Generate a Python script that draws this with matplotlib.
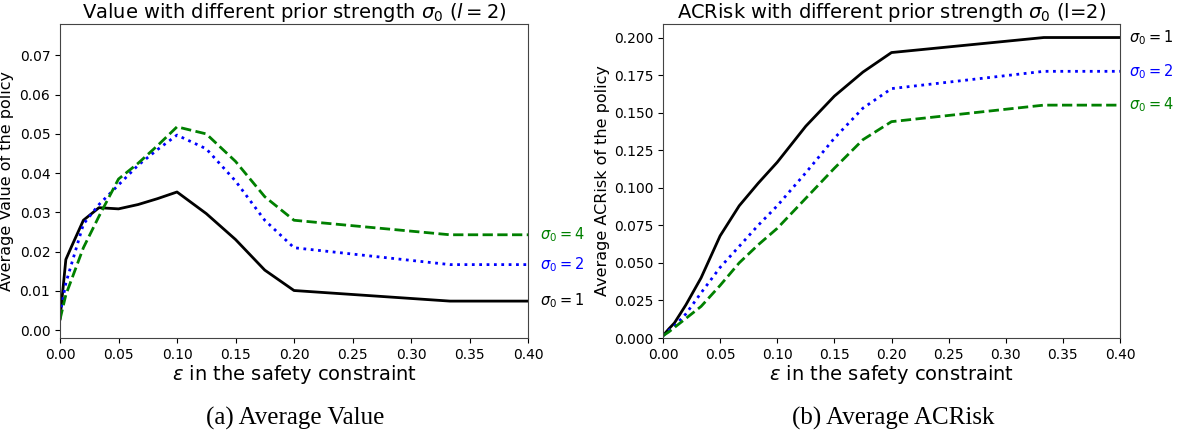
import matplotlib
matplotlib.use("Agg")
import matplotlib.pyplot as plt

# epsilon grid shared by all curves
eps = [0.0, 0.005, 0.01, 0.02, 0.0333, 0.05, 0.0667, 0.0833, 0.1, 0.125, 0.15, 0.175, 0.2, 0.3333, 0.4]

# (a) average value of the policy
value_s1 = [0.0028, 0.018, 0.0214, 0.028, 0.0312, 0.0309, 0.032, 0.0335, 0.0352, 0.0297, 0.0231, 0.0153, 0.0101, 0.0074, 0.0074]
value_s2 = [0.004, 0.012, 0.017, 0.027, 0.032, 0.037, 0.042, 0.046, 0.0497, 0.0462, 0.038, 0.028, 0.021, 0.0167, 0.0167]
value_s4 = [0.0027, 0.009, 0.013, 0.021, 0.029, 0.0385, 0.0425, 0.047, 0.0518, 0.050, 0.043, 0.034, 0.028, 0.0243, 0.0243]

# (b) average ACRisk of the policy
risk_s1 = [0.0015, 0.006, 0.010, 0.022, 0.040, 0.068, 0.088, 0.103, 0.117, 0.141, 0.161, 0.177, 0.190, 0.200, 0.200]
risk_s2 = [0.0015, 0.005, 0.008, 0.016, 0.030, 0.047, 0.061, 0.075, 0.088, 0.110, 0.133, 0.153, 0.166, 0.1775, 0.1775]
risk_s4 = [0.0015, 0.004, 0.007, 0.013, 0.021, 0.035, 0.050, 0.062, 0.073, 0.093, 0.113, 0.132, 0.144, 0.155, 0.155]

SERIES = [("1", "black", "-"), ("2", "blue", ":"), ("4", "green", "--")]

fig = plt.figure(figsize=(11.8, 4.36), dpi=100)
ax1 = fig.add_axes([60 / 1180, 1 - 338 / 436, 468 / 1180, 314 / 436])
ax2 = fig.add_axes([663 / 1180, 1 - 338 / 436, 457 / 1180, 314 / 436])

for ax, ys in [(ax1, [value_s1, value_s2, value_s4]), (ax2, [risk_s1, risk_s2, risk_s4])]:
    for (s, c, ls), y in zip(SERIES, ys):
        ax.plot(eps, y, color=c, ls=ls, lw=2)
        ax.text(1.025 if ax is ax1 else 1.02, y[-1], rf"$\sigma_0 = {s}$", color=c, fontsize=10.5,
                va="center", ha="left", transform=ax.get_yaxis_transform())
    ax.set_xlim(0, 0.4)
    ax.set_xlabel(r"$\epsilon$ in the safety constraint", fontsize=14, labelpad=1)
    ax.tick_params(labelsize=10)
    for sp in ax.spines.values():
        sp.set_color("#444444")

ax1.set_ylim(-0.002, 0.078)
ax1.set_yticks([0.0, 0.01, 0.02, 0.03, 0.04, 0.05, 0.06, 0.07])
ax1.set_ylabel("Average Value of the policy", fontsize=11.5, labelpad=4)
ax1.set_title(r"Value with different prior strength $\sigma_0$ ($l=2$)", fontsize=14, pad=4)

ax2.set_ylim(0, 0.209)
ax2.set_ylabel("Average ACRisk of the policy", fontsize=11.5, labelpad=3)
ax2.set_title(r"ACRisk with different prior strength $\sigma_0$ (l=2)", fontsize=14, pad=4)

fig.text(295 / 1180, 1 - 418 / 436, "(a) Average Value", family="Liberation Serif",
         fontsize=18, ha="center", va="center")
fig.text(893 / 1180, 1 - 418 / 436, "(b) Average ACRisk", family="Liberation Serif",
         fontsize=18, ha="center", va="center")

fig.savefig("out.png", dpi=100)
